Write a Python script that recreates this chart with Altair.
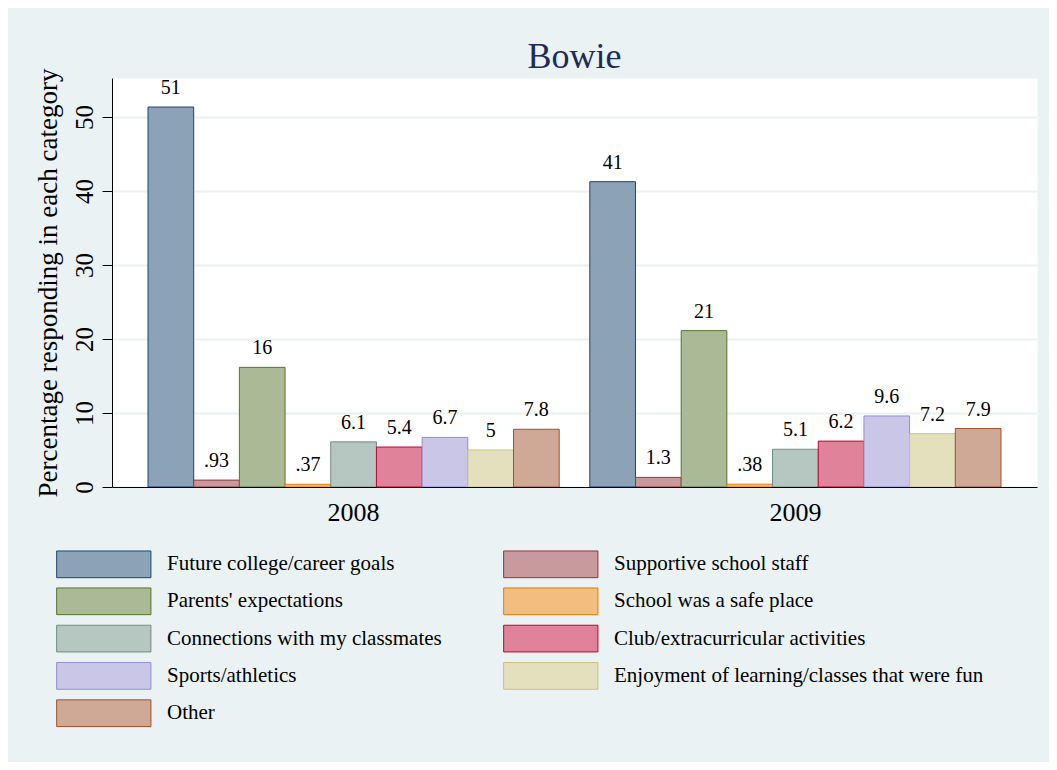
import altair as alt
import pandas as pd

years = ["2008", "2009"]
categories = [
    "Future college/career goals",
    "Supportive school staff",
    "Parents' expectations",
    "School was a safe place",
    "Connections with my classmates",
    "Club/extracurricular activities",
    "Sports/athletics",
    "Enjoyment of learning/classes that were fun",
    "Other",
]
values_2008 = [51.35, 0.93, 16.17, 0.37, 6.1, 5.4, 6.7, 5.0, 7.8]
values_2009 = [41.26, 1.3, 21.13, 0.38, 5.1, 6.2, 9.6, 7.2, 7.9]
fill_colors = ["#8ca3b7", "#c89a9d", "#aaba97", "#f1be80", "#b6c6c1",
               "#e08299", "#c9c6e8", "#e4e0be", "#cfa896"]
stroke_colors = ["#1a476f", "#90353b", "#55752f", "#e37e00", "#6e8e84",
                 "#c10534", "#938dd2", "#cac27e", "#a0522d"]
y_ticks = [0, 10, 20, 30, 40, 50]

FONT = "Liberation Serif"

# legend fills column by column; reorder so it reads row by row like the original
legend_order = [categories[i] for i in range(0, len(categories), 2)] + \
               [categories[i] for i in range(1, len(categories), 2)]
fill_map = dict(zip(categories, fill_colors))
stroke_map = dict(zip(categories, stroke_colors))
legend_fills = [fill_map[c] for c in legend_order]
legend_strokes = [stroke_map[c] for c in legend_order]


def fmt(v):
    s = f"{v:.2g}"
    if s.startswith("0."):
        s = s[1:]
    return s


rows = []
for yr, vals in zip(years, [values_2008, values_2009]):
    for cat, v in zip(categories, vals):
        rows.append({"year": yr, "category": cat, "value": v, "label": fmt(v)})
df = pd.DataFrame(rows)

legend = alt.Legend(
    title=None,
    orient="none",
    legendX=-56,
    legendY=472,
    columns=2,
    columnPadding=59,
    rowPadding=5.3,
    symbolType="M-1,-1H6.06V1H-1Z",
    symbolSize=713,
    symbolStrokeWidth=1,
    symbolOpacity=1,
    labelFont=FONT,
    labelFontSize=21,
    labelColor="black",
    labelOffset=83,
    labelLimit=0,
    padding=0,
)

x_enc = alt.X(
    "year:N",
    sort=years,
    scale=alt.Scale(paddingInner=0.0693, paddingOuter=0.0815),
    axis=alt.Axis(
        title=None, labelAngle=0, ticks=False, labelFont=FONT, labelFontSize=26,
        labelPadding=12, labelColor="black", domainColor="black", domainWidth=1,
        zindex=1,
    ),
)
xo_enc = alt.XOffset("category:N", sort=categories,
                     scale=alt.Scale(paddingInner=0, paddingOuter=0))
y_enc = alt.Y(
    "value:Q",
    scale=alt.Scale(domain=[0, 55.27], nice=False, zero=True),
    axis=alt.Axis(
        title="Percentage responding in each category",
        values=y_ticks,
        labelAngle=270, labelAlign="center", labelBaseline="alphabetic",
        labelFont=FONT, labelFontSize=25, labelPadding=10, labelColor="black",
        tickSize=10, tickColor="black", tickWidth=1,
        domainColor="black", domainWidth=1,
        grid=True, gridColor="#eaf2f3", gridWidth=2,
        titleFont=FONT, titleFontSize=27, titleFontWeight="normal",
        titleColor="black", titlePadding=10,
    ),
)

bars = alt.Chart(df).mark_bar(strokeWidth=1, opacity=1).encode(
    x=x_enc,
    xOffset=xo_enc,
    y=y_enc,
    fill=alt.Fill("category:N",
                  scale=alt.Scale(domain=legend_order, range=legend_fills), legend=legend),
    stroke=alt.Stroke("category:N",
                      scale=alt.Scale(domain=legend_order, range=legend_strokes), legend=legend),
)

labels = alt.Chart(df).mark_text(
    baseline="alphabetic", dy=-13, fontSize=20, font=FONT, color="black"
).encode(
    x=alt.X("year:N", sort=years),
    xOffset=alt.XOffset("category:N", sort=categories),
    y=alt.Y("value:Q"),
    text="label:N",
)

chart = alt.layer(bars, labels).properties(
    width=925,
    height=409,
    autosize=alt.AutoSizeParams(type="none"),
    padding={"left": 104, "top": 70, "right": 12, "bottom": 275},
    background="#eaf2f3",
    title=alt.Title("Bowie", fontSize=36, font=FONT, color="#1c2b5a",
                    fontWeight="normal", offset=-8,
                    anchor="middle", frame="group"),
).configure_view(fill="white", strokeOpacity=0)

chart.save("out.html", embed_options={"renderer": "svg", "actions": False})
